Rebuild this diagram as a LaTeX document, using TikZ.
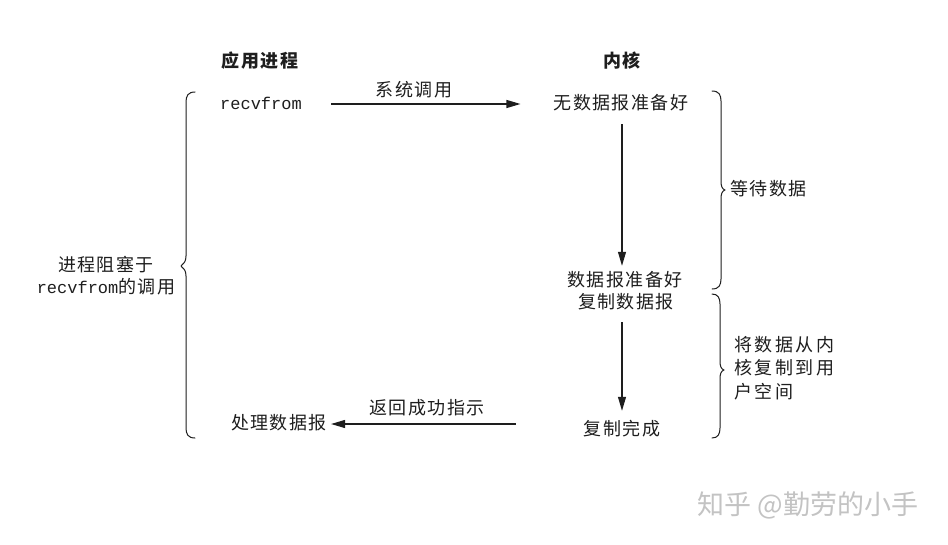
\documentclass[tikz,border=0pt]{standalone}
\usepackage{fontspec}
\usetikzlibrary{arrows.meta}
\newfontfamily\cjk[LetterSpace=8]{Noto Sans CJK SC}
\newfontfamily\cjkwide[LetterSpace=14]{Noto Sans CJK SC}
\newfontfamily\wmfont{Noto Sans CJK SC}
\newfontfamily\monofnt{Liberation Mono}
\definecolor{ink}{RGB}{30,30,30}
\definecolor{wm}{RGB}{195,195,195}
\tikzset{
  lbl/.style={inner sep=0pt, text height=13pt, text depth=3pt, text=ink, font=\cjk\fontsize{18}{22}\selectfont},
  mono/.style={lbl, font=\monofnt\fontsize{17}{22}\selectfont},
  ttl/.style={lbl, font=\cjk\bfseries\fontsize{18}{22}\selectfont},
  arr/.style={draw=ink, line width=1.1pt, -{Triangle[length=14pt,width=8pt]}},
  brc/.style={draw=ink, line width=1pt, line cap=round, line join=round},
}
\begin{document}
\begin{tikzpicture}[x=1pt,y=-1pt]
\useasboundingbox (0,0) rectangle (948,544);
\fill[white] (0,0) rectangle (948,544);
% titles
\node[ttl] (app) at (260,62) {应用进程};
\node[ttl] (kern) at (622,62) {内核};
% left column
\node[mono] (recv) at (261,104) {recvfrom};
\node[lbl] (proc) at (279,424) {处理数据报};
% kernel column
\node[lbl] (nodata) at (621,104) {无数据报准备好};
\node[lbl] (ready) at (625,281) {数据报准备好};
\node[lbl] (copy) at (626,303) {复制数据报};
\node[lbl] (done) at (622,430) {复制完成};
% arrows
\draw[arr, shorten <=29pt, shorten >=33pt] (recv.east) -- (recv.east -| nodata.west)
  node[lbl, pos=0.445, above=4pt] (sys) {系统调用};
\draw[arr, shorten <=12pt, shorten >=7pt] (nodata.south -| 622,0) -- (ready.north -| 622,0);
\draw[arr, shorten <=11pt, shorten >=11pt] (copy.south -| 622,0) -- (done.north -| 622,0);
\draw[arr, shorten <=68pt, shorten >=4pt] (proc.east -| done.west) -- (proc.east)
  node[lbl, pos=0.61, above=6pt] (ret) {返回成功指示};
% left brace
\draw[brc] (195,92) .. controls (188,92) and (186,96) .. (186,102) -- (186,256)
  .. controls (186,261) and (184,264) .. (181,266)
  .. controls (184,268) and (186,271) .. (186,276) -- (186,428)
  .. controls (186,434) and (188,438) .. (195,438);
\node[lbl, align=center, font=\cjk\fontsize{18}{22}\selectfont] (block) at (106,288)
  {进程阻塞于\\{\monofnt\fontsize{17}{22}\selectfont recvfrom}的调用};
% right brace 1
\draw[brc] (712,91) .. controls (719,91) and (721,95) .. (721,101) -- (721,181)
  .. controls (721,186) and (722,189) .. (725,190)
  .. controls (722,191) and (721,194) .. (721,199) -- (721,279)
  .. controls (721,285) and (719,289) .. (712,289);
\node[lbl, anchor=west] (wait) at (730,190) {等待数据};
% right brace 2
\draw[brc] (712,294) .. controls (718,294) and (720,298) .. (720,304) -- (720,361)
  .. controls (720,366) and (721,369) .. (724,370)
  .. controls (721,371) and (720,374) .. (720,379) -- (720,428)
  .. controls (720,434) and (718,438) .. (712,438);
\node[lbl, anchor=north west, align=left, text height=, text depth=,
  font=\cjkwide\fontsize{18}{23.5}\selectfont] (cp) at (734,336)
  {将数据从内\\核复制到用\\户空间};
% watermark
\node[inner sep=0pt, text=wm, font=\wmfont\fontsize{27}{30}\selectfont] (mark) at (808,505) {知乎 @勤劳的小手};
\end{tikzpicture}
\end{document}
